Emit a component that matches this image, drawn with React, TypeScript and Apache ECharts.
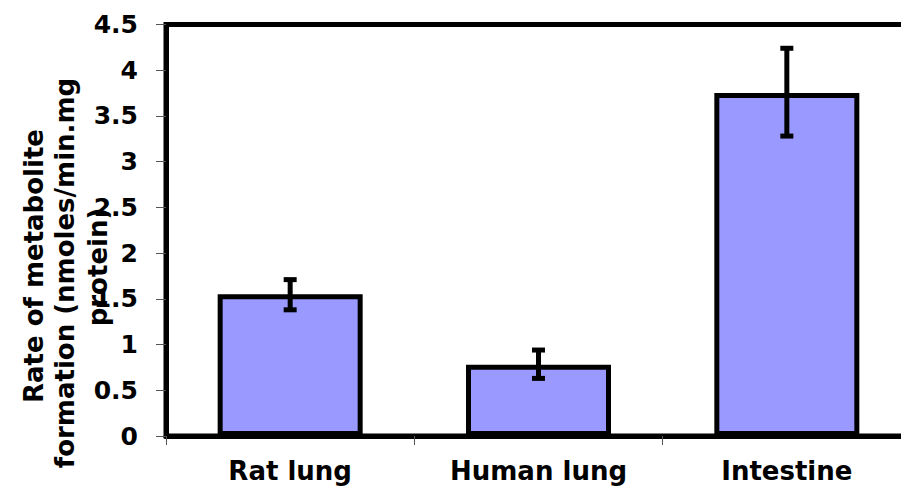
import React, { useEffect, useRef } from "react";
import * as echarts from "echarts";

const categories = ["Rat lung", "Human lung", "Intestine"];
const rates = [1.55, 0.78, 3.75];
const errLow = [1.38, 0.63, 3.28];
const errHigh = [1.71, 0.94, 4.24];
const titleLines = ["Rate of metabolite", "formation (nmoles/min.mg", "protein)"];

export default function App() {
  const ref = useRef<HTMLDivElement>(null);
  useEffect(() => {
    if (!ref.current) return;
    const chart = echarts.init(ref.current, null, { renderer: "svg" });
    const font = "'DejaVu Sans', 'Liberation Sans', Arial, sans-serif";
    chart.setOption({
      animation: false,
      backgroundColor: "#ffffff",
      grid: {
        left: 166,
        top: 24.5,
        width: 745,
        height: 411.5,
        outerBoundsMode: "none",
        containLabel: false,
        show: true,
        borderColor: "#000000",
        borderWidth: 5,
        backgroundColor: "transparent",
      },
      xAxis: {
        type: "category",
        data: categories,
        boundaryGap: true,
        axisLine: { show: true, lineStyle: { color: "#000", width: 5 } },
        axisTick: { show: true, length: 9, lineStyle: { color: "#555", width: 1 } },
        axisLabel: {
          color: "#000",
          fontSize: 26,
          fontWeight: "bold",
          fontFamily: font,
          margin: 22,
        },
        splitLine: { show: false },
      },
      yAxis: {
        type: "value",
        min: 0,
        max: 4.5,
        interval: 0.5,
        axisLine: { show: true, lineStyle: { color: "#000", width: 5 } },
        axisTick: { show: true, length: 10, lineStyle: { color: "#555", width: 1 } },
        axisLabel: {
          color: "#000",
          fontSize: 25,
          fontWeight: "bold",
          fontFamily: font,
          margin: 28,
        },
        splitLine: { show: false },
      },
      graphic: [
        { x: 34, y: 266, line: 0 },
        { x: 65, y: 273, line: 1 },
        { x: 98, y: 267, line: 2 },
      ].map((p) => ({
        type: "text",
        x: p.x,
        y: p.y,
        rotation: Math.PI / 2,
        z: 100,
        style: {
          text: titleLines[p.line],
          fill: "#000",
          fontSize: 26,
          fontWeight: "bold",
          fontFamily: font,
          textAlign: "center",
          textVerticalAlign: "middle",
        },
      })),
      series: [
        {
          type: "bar",
          data: rates,
          barWidth: 145,
          itemStyle: { color: "#9999FF", borderColor: "#000", borderWidth: 5 },
          z: 2,
        },
        {
          type: "custom",
          data: categories.map((_, i) => [i, errLow[i], errHigh[i]]),
          z: 5,
          renderItem: (params: any, api: any) => {
            const idx = api.value(0);
            const pHi = api.coord([idx, api.value(2)]);
            const pLo = api.coord([idx, api.value(1)]);
            const cap = 6.5;
            const st = { stroke: "#000", lineWidth: 5 };
            return {
              type: "group",
              children: [
                { type: "line", shape: { x1: pHi[0], y1: pHi[1], x2: pLo[0], y2: pLo[1] }, style: st },
                { type: "line", shape: { x1: pHi[0] - cap, y1: pHi[1], x2: pHi[0] + cap, y2: pHi[1] }, style: st },
                { type: "line", shape: { x1: pLo[0] - cap, y1: pLo[1], x2: pLo[0] + cap, y2: pLo[1] }, style: st },
              ],
            };
          },
        },
      ],
    });
    return () => chart.dispose();
  }, []);
  return (
    <div
      ref={ref}
      style={{ position: "fixed", left: 0, top: 0, width: 901, height: 493, background: "#fff" }}
    />
  );
}
